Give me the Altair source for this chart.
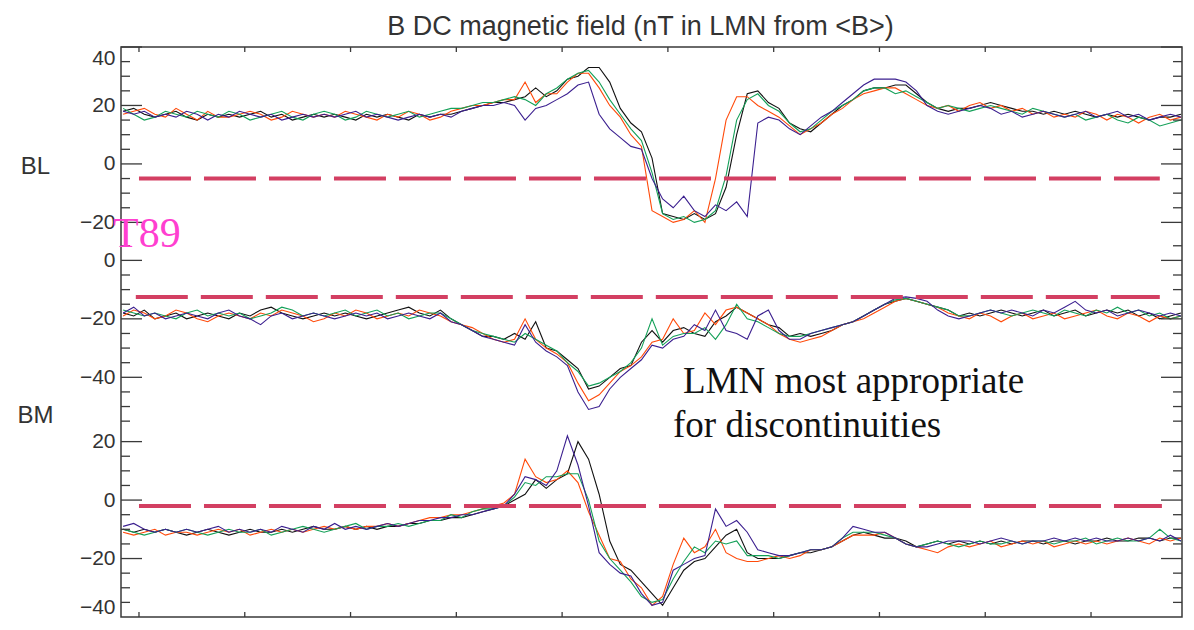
import altair as alt
import pandas as pd

# ---------------- data ----------------
# sample times (arbitrary time units; ticks at 1..10)
t = [round(0.85 + 0.1 * k, 2) for k in range(101)]

SERIES = ["C1", "C2", "C3", "C4"]
COLORS = ["#111111", "#ff4a0a", "#14a058", "#3b1f8f"]

BL_c1 = [18, 19, 17, 16, 17, 18, 16, 15, 17, 16,
         17, 16, 17, 18, 16, 17, 15, 16, 17, 16,
         17, 16, 15, 17, 16, 17, 16, 15, 17, 16,
         17, 17, 18, 19, 20, 21, 21, 22, 23, 26,
         23, 25, 29, 30, 33, 33, 28, 19, 14, 11,
         2, -17, -18, -19, -17, -19, -17, -8, 10, 24,
         25, 21, 19, 14, 12, 11, 14, 17, 20, 22,
         25, 26, 26, 27, 27, 24, 21, 19, 18, 19,
         19, 20, 21, 20, 19, 18, 18, 17, 18, 17,
         18, 17, 16, 17, 16, 17, 16, 15, 16, 16, 17]
BL_c2 = [17, 18, 19, 17, 16, 19, 17, 15, 18, 16,
         16, 17, 18, 17, 15, 16, 18, 17, 16, 17,
         16, 18, 17, 16, 15, 17, 16, 18, 17, 15,
         16, 18, 19, 20, 20, 21, 22, 22, 28, 21,
         24, 24, 28, 31, 31, 26, 20, 16, 10, 6,
         -16, -18, -20, -19, -16, -20, -5, 15, 23, 23,
         20, 18, 16, 13, 10, 12, 14, 17, 19, 22,
         24, 25, 26, 26, 24, 22, 20, 19, 20, 18,
         20, 21, 19, 20, 18, 19, 17, 18, 16, 17,
         16, 18, 17, 15, 17, 16, 14, 16, 17, 15, 16]
BL_c3 = [19, 17, 15, 16, 18, 17, 16, 18, 17, 16,
         18, 17, 15, 16, 17, 18, 16, 15, 17, 18,
         17, 15, 16, 18, 17, 16, 17, 18, 16, 17,
         18, 19, 19, 20, 21, 21, 22, 23, 22, 20,
         24, 26, 29, 31, 32, 28, 22, 17, 12, 8,
         -3, -17, -19, -18, -20, -19, -16, -4, 15, 22,
         24, 20, 18, 14, 11, 12, 15, 18, 20, 22,
         25, 26, 26, 24, 25, 23, 21, 19, 20, 19,
         18, 19, 20, 19, 18, 17, 19, 18, 17, 16,
         17, 15, 16, 17, 15, 14, 16, 15, 13, 14, 15]
BL_c4 = [18, 17, 18, 16, 17, 16, 18, 17, 15, 17,
         16, 18, 17, 16, 17, 15, 16, 17, 16, 17,
         16, 17, 18, 16, 17, 16, 15, 16, 17, 16,
         17, 16, 18, 19, 20, 20, 21, 20, 15, 19,
         20, 22, 24, 27, 28, 17, 12, 9, 6, 5,
         -5, -12, -15, -11, -16, -18, -14, -16, -13, -18,
         14, 16, 15, 12, 10, 13, 16, 18, 21, 24,
         27, 29, 29, 29, 28, 25, 20, 18, 17, 18,
         19, 20, 19, 17, 18, 16, 17, 18, 17, 16,
         17, 18, 16, 17, 18, 16, 17, 15, 16, 17, 16]

BM_c1 = [-18, -19, -17, -20, -19, -18, -20, -19, -18, -19,
         -20, -18, -19, -17, -16, -18, -19, -20, -19, -18,
         -19, -18, -19, -20, -19, -18, -17, -16, -18, -19,
         -17, -20, -22, -24, -26, -26, -27, -25, -27, -21,
         -30, -31, -34, -37, -44, -43, -40, -37, -36, -28,
         -24, -28, -24, -23, -25, -26, -21, -19, -16, -18,
         -20, -22, -23, -26, -25, -26, -25, -24, -22, -21,
         -19, -17, -15, -14, -13, -14, -15, -16, -17, -19,
         -18, -19, -18, -17, -18, -19, -18, -17, -19, -18,
         -17, -19, -18, -17, -18, -17, -19, -18, -20, -19, -18]
BM_c2 = [-19, -17, -18, -20, -19, -17, -18, -20, -21, -19,
         -18, -19, -20, -18, -19, -17, -18, -19, -21, -20,
         -18, -19, -17, -18, -20, -19, -18, -19, -17, -18,
         -19, -21, -22, -23, -25, -27, -28, -27, -20, -27,
         -30, -32, -35, -42, -48, -46, -42, -38, -36, -33,
         -28, -27, -20, -25, -24, -18, -22, -17, -16, -18,
         -20, -22, -25, -27, -28, -27, -26, -24, -22, -21,
         -20, -18, -16, -14, -13, -14, -15, -16, -18, -19,
         -20, -18, -19, -21, -19, -18, -20, -19, -18, -20,
         -19, -18, -17, -19, -20, -18, -19, -21, -19, -20, -19]
BM_c3 = [-17, -18, -19, -18, -19, -20, -18, -17, -19, -18,
         -19, -18, -20, -19, -18, -16, -17, -19, -18, -19,
         -18, -17, -19, -18, -17, -19, -18, -20, -19, -18,
         -18, -20, -22, -24, -25, -26, -27, -28, -25, -27,
         -29, -31, -35, -38, -43, -42, -40, -38, -35, -30,
         -20, -29, -26, -25, -25, -23, -27, -22, -15, -20,
         -21, -23, -25, -26, -26, -25, -24, -23, -22, -21,
         -19, -17, -15, -13.5, -13, -14, -15, -16, -17, -19,
         -19, -18, -17, -18, -19, -18, -17, -18, -19, -17,
         -18, -19, -17, -18, -16, -18, -17, -19, -18, -20, -19]
BM_c4 = [-18, -16, -19, -18, -20, -19, -18, -19, -20, -18,
         -17, -19, -20, -22, -19, -18, -20, -19, -18, -19,
         -20, -19, -18, -19, -18, -20, -19, -18, -19, -20,
         -18, -21, -22, -24, -26, -27, -28, -29, -22, -28,
         -31, -33, -36, -45, -51, -50, -44, -40, -37, -34,
         -29, -30, -27, -26, -22, -24, -17, -24, -25, -27,
         -19, -17, -24, -27, -27, -25, -24, -23, -22, -21,
         -19, -17, -15, -13, -12.5, -13, -14, -17, -19, -20,
         -19, -18, -17, -18, -17, -18, -19, -17, -18, -16,
         -14, -17, -18, -17, -19, -18, -17, -18, -19, -18, -19]

BN_c1 = [-10, -11, -10, -11, -10, -11, -12, -11, -10, -11,
         -12, -11, -10, -11, -11, -10, -11, -10, -9, -10,
         -10, -9, -10, -9, -10, -9, -9, -8, -8, -7,
         -7, -6, -6, -5, -4, -3, -2, 0, 2, 7,
         4, 7, 9, 20, 14, 2, -14, -22, -24, -28,
         -32, -36, -30, -24, -21, -20, -16, -12, -10, -18,
         -20, -20, -20, -19, -18, -18, -17, -16, -14, -12,
         -11, -12, -13, -13, -14, -16, -15, -14, -15, -14,
         -15, -14, -15, -14, -15, -14, -14, -15, -14, -14,
         -15, -14, -14, -13, -14, -14, -13, -13, -14, -13, -13]
BN_c2 = [-11, -12, -11, -10, -12, -11, -11, -12, -11, -10,
         -11, -10, -12, -11, -10, -11, -10, -11, -10, -9,
         -10, -9, -10, -9, -9, -8, -9, -8, -7, -6,
         -6, -5, -5, -4, -3, -2, -1, 2, 14, 8,
         6, 7, 10, 6, -4, -12, -20, -21, -27, -30,
         -36, -33, -22, -13, -18, -16, -10, -18, -20, -21,
         -21, -20, -19, -20, -19, -17, -17, -16, -14, -12,
         -12, -12, -11, -13, -15, -16, -17, -18, -16, -15,
         -16, -15, -14, -16, -15, -14, -15, -14, -16, -15,
         -14, -15, -14, -15, -14, -13, -14, -15, -13, -14, -13]
BN_c3 = [-10, -11, -12, -11, -10, -11, -10, -11, -12, -11,
         -10, -11, -11, -10, -12, -11, -10, -9, -10, -11,
         -10, -9, -8, -10, -9, -9, -8, -9, -8, -7,
         -7, -5, -6, -4, -3, -3, -2, 1, 6, 5,
         8, 8, 9, 9, 0, -14, -20, -24, -28, -33,
         -35, -34, -27, -21, -16, -18, -14, -15, -14, -19,
         -19, -19, -20, -19, -18, -17, -17, -16, -13, -11,
         -11, -11, -12, -13, -15, -16, -15, -14, -15, -16,
         -15, -14, -15, -15, -14, -15, -14, -14, -15, -14,
         -14, -13, -15, -14, -13, -14, -14, -13, -10, -13, -14]
BN_c4 = [-9, -8, -10, -11, -10, -11, -10, -11, -10, -9,
         -11, -10, -11, -10, -11, -9, -10, -11, -9, -10,
         -8, -10, -9, -10, -9, -8, -9, -8, -7, -7,
         -6, -6, -5, -5, -4, -3, -2, 2, 8, 7,
         5, 10, 22, 12, -2, -18, -22, -25, -26, -32,
         -36, -35, -24, -22, -20, -19, -3, -9, -7, -11,
         -17, -18, -19, -19, -18, -17, -17, -16, -13, -9,
         -10, -11, -11, -13, -15, -16, -16, -15, -14, -14,
         -14, -15, -14, -13, -14, -15, -14, -14, -13, -14,
         -13, -14, -13, -14, -14, -13, -14, -13, -14, -12, -14]

PANEL_NAMES = ["BL", "BM", "BN"]
PANEL_DATA = [[BL_c1, BL_c2, BL_c3, BL_c4],
              [BM_c1, BM_c2, BM_c3, BM_c4],
              [BN_c1, BN_c2, BN_c3, BN_c4]]

# axis ranges, tick values, label values
X_DOMAIN = [0.83, 10.86]
X_TICKS = [1, 2, 3, 4, 5, 6, 7, 8, 9, 10]
Y_DOMAINS = [[-25, 40], [-57, 8], [-40, 25]]
Y_LABELS = [[40, 20, 0, -20], [0, -20, -40], [20, 0, -20, -40]]
Y_MAJOR = [[40, 20, 0, -20], [0, -20, -40], [20, 0, -20]]
Y_MINOR = [[35, 30, 25, 15, 10, 5, -5, -10, -15],
           [5, -5, -10, -15, -25, -30, -35, -45, -50, -55],
           [15, 10, 5, -5, -10, -15, -25, -30, -35]]
# dashed reference levels
DASH_LEVEL = [-5, -12.5, -2]
DASH_X0 = [1.0, 0.97, 1.0]
DASH_X1 = [10.65, 10.65, 10.67]

# ---------------- styling ----------------
W, H = 1061, 570
PH = 190                       # height of each stacked panel band
AX = "#3a3a3a"
SANS = "Liberation Sans"
SERIF = "Liberation Serif"
xs = alt.Scale(domain=X_DOMAIN, nice=False, zero=False)
YTITLE = {0: ("BL", 119), 1: ("BM", 368)}


def one():
    return pd.DataFrame({"v": [0]})


layers = []
for i in range(3):
    ys = alt.Scale(domain=Y_DOMAINS[i], range=[PH * (i + 1), PH * i], nice=False, zero=False)
    rows = []
    for s, vals in zip(SERIES, PANEL_DATA[i]):
        for tt, vv in zip(t, vals):
            rows.append({"t": tt, "v": vv, "s": s})
    df = pd.DataFrame(rows)

    yax = dict(values=Y_LABELS[i], ticks=False, grid=False, domain=False,
               labelFontSize=21, labelFont=SANS, labelColor="#333333",
               labelPadding=6, labelFlush=1, orient="left")
    if i in YTITLE:
        yax.update(title=YTITLE[i][0], titleAngle=0, titleX=-86, titleY=YTITLE[i][1],
                   titleAlign="center", titleBaseline="middle", titleFontSize=24,
                   titleFont=SANS, titleFontWeight="normal", titleColor="#333333")
    else:
        yax.update(title=None)

    xaxis = None
    if i == 0:
        xaxis = None

    layers.append(alt.Chart(df).mark_line(strokeWidth=1.1).encode(
        x=alt.X("t:Q", scale=xs, axis=None),
        y=alt.Y("v:Q", scale=ys, axis=alt.Axis(**yax)),
        color=alt.Color("s:N", scale=alt.Scale(domain=SERIES, range=COLORS), legend=None),
    ))

    layers.append(alt.Chart(pd.DataFrame({"x0": [DASH_X0[i]], "x1": [DASH_X1[i]],
                                          "lvl": [DASH_LEVEL[i]]})).mark_rule(
        strokeDash=[52, 13], strokeWidth=4, color="#d33f62").encode(
        x=alt.X("x0:Q", scale=xs, axis=None), x2="x1:Q",
        y=alt.Y("lvl:Q", scale=ys, axis=None)))

    maj = pd.DataFrame({"v": Y_MAJOR[i]})
    mnr = pd.DataFrame({"v": Y_MINOR[i]})
    yk = alt.Y("v:Q", scale=ys, axis=None)
    for dfk, ln in ((maj, 21), (mnr, 9)):
        layers.append(alt.Chart(dfk).mark_rule(color=AX, strokeWidth=1.3).encode(
            y=yk, x=alt.value(0), x2=alt.value(ln)))
        layers.append(alt.Chart(dfk).mark_rule(color=AX, strokeWidth=1.3).encode(
            y=yk, x=alt.value(W - ln), x2=alt.value(W)))

# inward x ticks on top and bottom frame
xt = pd.DataFrame({"tk": X_TICKS})
layers.append(alt.Chart(xt).mark_rule(color=AX, strokeWidth=1.3).encode(
    x=alt.X("tk:Q", scale=xs, axis=None), y=alt.value(0), y2=alt.value(5)))
layers.append(alt.Chart(xt).mark_rule(color=AX, strokeWidth=1.3).encode(
    x=alt.X("tk:Q", scale=xs, axis=None), y=alt.value(H - 5), y2=alt.value(H)))

# annotations
layers.append(alt.Chart(one()).mark_text(font=SERIF, fontSize=42, color="#ff3fd0",
                                         align="left", baseline="alphabetic").encode(
    x=alt.value(-8), y=alt.value(200), text=alt.value("T89")))
layers.append(alt.Chart(one()).mark_text(font=SERIF, fontSize=37, color="#111111",
                                         align="left", baseline="alphabetic").encode(
    x=alt.value(562), y=alt.value(346), text=alt.value("LMN most appropriate")))
layers.append(alt.Chart(one()).mark_text(font=SERIF, fontSize=37, color="#111111",
                                         align="left", baseline="alphabetic").encode(
    x=alt.value(552), y=alt.value(390), text=alt.value("for discontinuities")))

chart = alt.layer(*layers).resolve_scale(y="independent").properties(
    width=W, height=H,
    title=alt.TitleParams(text="B DC magnetic field (nT in LMN from <B>)",
                          fontSize=27, font=SANS, fontWeight="normal", color="#333333",
                          anchor="middle", offset=5, dx=-11),
    padding={"left": 121, "top": 47, "right": 12, "bottom": 13},
    autosize=alt.AutoSizeParams(type="none"),
).configure_view(stroke=AX, strokeWidth=1.5)

chart.save("out.html", embed_options={"renderer": "svg", "actions": False})
